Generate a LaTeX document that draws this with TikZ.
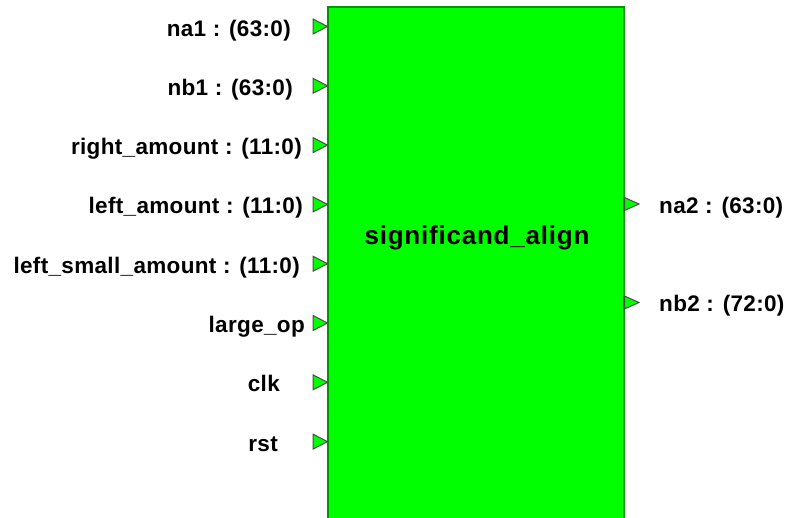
\documentclass[tikz,border=0pt]{standalone}
\usepackage{fontspec}
\setmainfont{Liberation Sans}
\usetikzlibrary{calc}

\definecolor{blockgreen}{RGB}{0,255,0}
\definecolor{blockedge}{RGB}{0,150,0}

\newcommand{\pinfont}{\fontsize{22.5}{27}\selectfont\bfseries\addfontfeature{LetterSpace=1.5}}
\newcommand{\titlefont}{\fontsize{26}{31}\selectfont\bfseries\addfontfeature{LetterSpace=3}}

\tikzset{
  pinlabel/.style={anchor=base east, inner sep=0, font=\pinfont},
  outlabel/.style={anchor=base west, inner sep=0, font=\pinfont},
  pintri/.style={fill=blockgreen, draw=black!70, line width=1pt, line join=miter},
}

\begin{document}
\begin{tikzpicture}[x=1pt,y=-1pt]
\useasboundingbox (0,0) rectangle (786,517);
\clip (0,0) rectangle (786,517);
% the block itself, runs off the bottom
\draw[fill=blockgreen, draw=blockedge, line width=1.5pt] (328,7) rectangle (624,530);
\node[anchor=base, inner sep=0, font=\titlefont] (blk) at (477,244.5) {significand\_align};

% input pins
\foreach \y/\lab/\xr [count=\i] in {26.5/{na1 : (63:0)}/291,
                          85.8/{nb1 : (63:0)}/293,
                          145.1/{right\_amount : (11:0)}/302,
                          204.4/{left\_amount : (11:0)}/303,
                          263.7/{left\_small\_amount : (11:0)}/300,
                          323/{large\_op}/305,
                          382.3/{clk}/280,
                          441.6/{rst}/278}{
  \draw[pintri] (313,\y-7.5) -- (327.5,\y) -- (313,\y+7.5) -- cycle;
  \node[pinlabel] (in\i) at (\xr,\y+9.5) {\lab};
}

% output pins
\foreach \y/\lab [count=\i] in {204/{na2 : (63:0)}, 302.5/{nb2 : (72:0)}}{
  \draw[pintri] (624.5,\y-6.5) -- (639,\y) -- (624.5,\y+6.5) -- cycle;
  \node[outlabel] (out\i) at (659,\y+9) {\lab};
}
\end{tikzpicture}
\end{document}
